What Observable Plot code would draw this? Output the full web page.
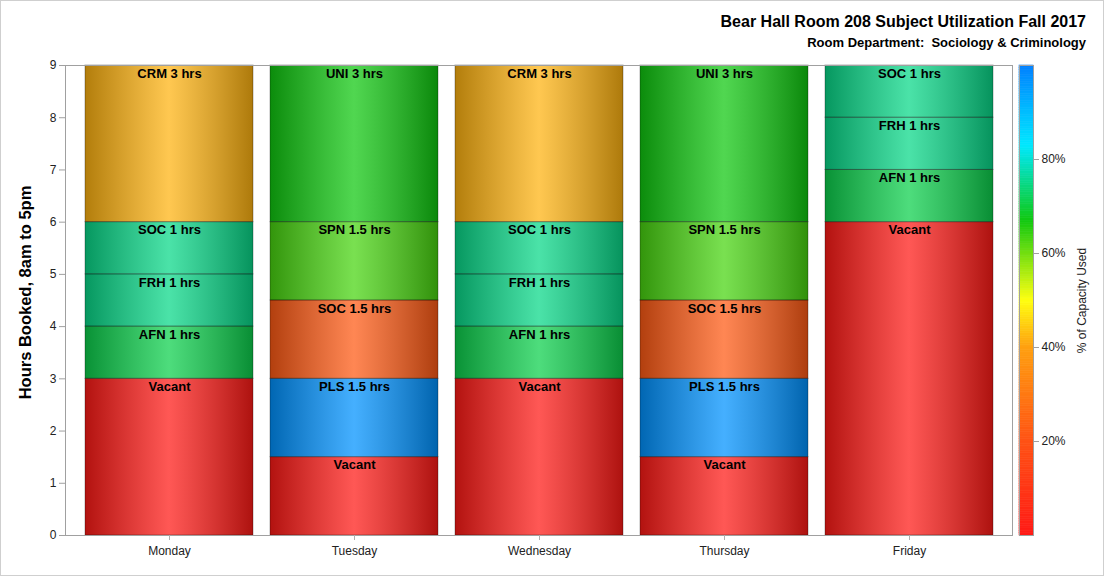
<!DOCTYPE html>
<html>
<head>
<meta charset="utf-8">
<script src="https://cdn.jsdelivr.net/npm/d3@7"></script>
<script src="https://cdn.jsdelivr.net/npm/@observablehq/plot@0.6"></script>
<style>
  body { margin: 0; background: #fff; font-family: "Liberation Sans", Arial, sans-serif; }
  #wrap { position: relative; width: 1104px; height: 576px; overflow: hidden; background: #fff; }
  #border { position: absolute; left: 0; top: 0; width: 1104px; height: 576px; box-sizing: border-box; border: 1px solid #cfcfcf; pointer-events: none; }
  #title { position: absolute; right: 18px; top: 13px; font-weight: bold; font-size: 16px; color: #000; white-space: pre; }
  #subtitle { position: absolute; right: 18px; top: 35px; font-weight: bold; font-size: 13px; color: #000; white-space: pre; }
  #main { position: absolute; left: 0; top: 0; }
  #legend { position: absolute; left: 1012px; top: 0; }
</style>
</head>
<body>
<div id="wrap">
  <div id="main"></div>
  <div id="legend"></div>
  <div id="title">Bear Hall Room 208 Subject Utilization Fall 2017</div>
  <div id="subtitle">Room Department:  Sociology &amp; Criminology</div>
  <div id="border"></div>
</div>
<script>
// ---- data ----
const days = ["Monday", "Tuesday", "Wednesday", "Thursday", "Friday"];
const segDay = [
  "Monday", "Monday", "Monday", "Monday", "Monday",
  "Tuesday", "Tuesday", "Tuesday", "Tuesday", "Tuesday",
  "Wednesday", "Wednesday", "Wednesday", "Wednesday", "Wednesday",
  "Thursday", "Thursday", "Thursday", "Thursday", "Thursday",
  "Friday", "Friday", "Friday", "Friday"
];
const segSubject = [
  "Vacant", "AFN", "FRH", "SOC", "CRM",
  "Vacant", "PLS", "SOC", "SPN", "UNI",
  "Vacant", "AFN", "FRH", "SOC", "CRM",
  "Vacant", "PLS", "SOC", "SPN", "UNI",
  "Vacant", "AFN", "FRH", "SOC"
];
const segHours = [
  3, 1, 1, 1, 3,
  1.5, 1.5, 1.5, 1.5, 3,
  3, 1, 1, 1, 3,
  1.5, 1.5, 1.5, 1.5, 3,
  6, 1, 1, 1
];
const segCapacity = [
  0, 71, 75, 75, 42,
  0, 97, 22, 63, 67,
  0, 71, 75, 75, 42,
  0, 97, 22, 63, 67,
  0, 71, 75, 75
];
const yTicks = [0, 1, 2, 3, 4, 5, 6, 7, 8, 9];
const legendTicks = [20, 40, 60, 80];
const yLabel = "Hours Booked, 8am to 5pm";
const legendLabel = "% of Capacity Used";

// color ramp stops
const colorDomain = [0, 20, 40, 50, 67, 83, 100];
const colorRange = ["#ff1a16", "#ff5214", "#ffa010", "#ffff10", "#10c810", "#00e8ff", "#0080ff"];

const data = segDay.map((d, i) => ({
  day: d,
  subject: segSubject[i],
  hours: segHours[i],
  capacity: segCapacity[i],
  label: segSubject[i] === "Vacant" ? "Vacant" : `${segSubject[i]} ${segHours[i]} hrs`
}));

const colorScale = {type: "linear", domain: colorDomain, range: colorRange, interpolate: "rgb"};
const font = "'Liberation Sans', Arial, sans-serif";

const main = Plot.plot({
  width: 1104,
  height: 576,
  marginLeft: 65,
  marginRight: 92,
  marginTop: 65,
  marginBottom: 41,
  style: {fontFamily: font, fontSize: "12px", color: "#222", background: "transparent"},
  x: {domain: days, paddingInner: 0.094, paddingOuter: 0.1, label: null},
  y: {domain: [0, 9], label: null},
  color: colorScale,
  marks: [
    Plot.barY(data, {x: "day", y: "hours", fill: "capacity"}),
    Plot.barY(data, {x: "day", y: "hours", fill: "url(#sheen)", stroke: "rgba(0,0,0,0.3)", strokeWidth: 1}),
    Plot.text(data, Plot.stackY2({x: "day", y: "hours", text: "label", lineAnchor: "top", dy: 3, fontWeight: "bold", fontSize: 13, fill: "#000"})),
    Plot.frame({stroke: "#a0a0a0"}),
    Plot.axisY({ticks: yTicks, tickSize: 6, tickPadding: 3, label: null, stroke: "#a0a0a0", fill: "#222"}),
    Plot.axisX({tickSize: 5, tickPadding: 6, label: null, stroke: "#b0b0b0", fill: "#222"}),
    Plot.text([yLabel], {frameAnchor: "left", textAnchor: "middle", dx: -40, dy: -8, rotate: -90, fontSize: 16.5, fontWeight: "bold", fill: "#000"})
  ]
});

// sheen gradient for the bars
const svg = d3.select(main);
const grad = svg.insert("defs", ":first-child").append("linearGradient")
  .attr("id", "sheen").attr("x1", 0).attr("x2", 1).attr("y1", 0).attr("y2", 0);
[[0, "#000", 0.3], [0.5, "#fff", 0.27], [1, "#000", 0.32]].forEach(([o, c, a]) =>
  grad.append("stop").attr("offset", o).attr("stop-color", c).attr("stop-opacity", a));
document.getElementById("main").appendChild(main);

// vertical color legend
const legendSteps = d3.range(0, 100, 0.5);
const legend = Plot.plot({
  width: 92,
  height: 576,
  marginLeft: 7,
  marginRight: 71,
  marginTop: 65,
  marginBottom: 41,
  style: {fontFamily: font, fontSize: "12px", color: "#222", background: "transparent"},
  y: {domain: [0, 100], label: null},
  color: colorScale,
  marks: [
    Plot.rect(legendSteps, {y1: d => d, y2: d => d + 0.5, fill: d => d + 0.25, stroke: d => d + 0.25, strokeWidth: 0.6}),
    Plot.frame({stroke: "#a0a0a0"}),
    Plot.axisY({anchor: "right", ticks: legendTicks, tickFormat: d => d + "%", tickSize: 5, tickPadding: 3, label: null, stroke: "#a0a0a0", fill: "#222"}),
    Plot.text([legendLabel], {frameAnchor: "right", textAnchor: "middle", dx: 49, rotate: -90, fontSize: 12, fill: "#222"})
  ]
});
document.getElementById("legend").appendChild(legend);
</script>
</body>
</html>
